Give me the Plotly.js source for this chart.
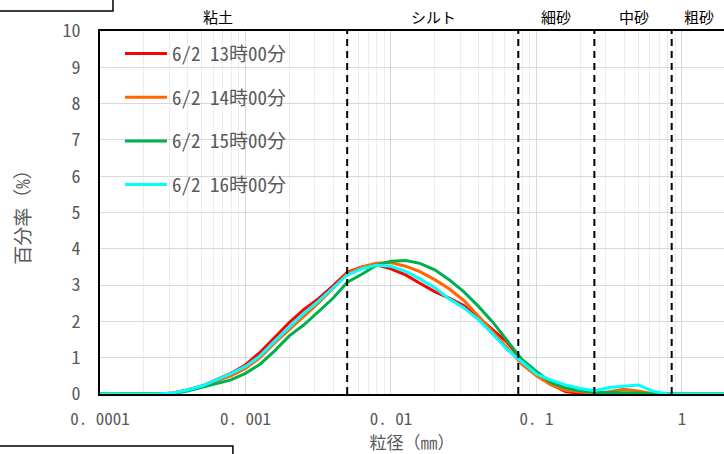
<!DOCTYPE html>
<html>
<head>
<meta charset="utf-8">
<script src="https://cdn.plot.ly/plotly-3.0.1.min.js"></script>
<style>html,body{margin:0;padding:0;background:#fff;}#chart{width:724px;height:454px;}</style>
</head>
<body>
<div id="chart"></div>
<script>
// particle diameter (mm)
var diameters = [0.0001,0.000126,0.000158,0.0002,0.000251,0.000316,0.000398,0.000501,0.000631,0.000794,
  0.001,0.00126,0.00158,0.002,0.00251,0.00316,0.00398,0.00501,0.00631,0.00794,
  0.01,0.0126,0.0158,0.02,0.0251,0.0316,0.0398,0.0501,0.0631,0.0794,
  0.1,0.126,0.158,0.2,0.251,0.316,0.398,0.501,0.631,0.794,
  1,1.26,1.58,2];
var seriesNames = ["6/2 13時00分","6/2 14時00分","6/2 15時00分","6/2 16時00分"];
var s13 = [0,0,0,0,0,0.03,0.11,0.22,0.39,0.57,
  0.8,1.15,1.55,1.97,2.32,2.62,2.97,3.35,3.5,3.56,
  3.45,3.28,3.05,2.82,2.64,2.44,2.12,1.78,1.42,0.92,
  0.55,0.27,0.07,0.01,0,0,0,0,0,0,
  0,0,0,0];
var s14 = [0,0,0,0,0,0.02,0.1,0.2,0.36,0.5,
  0.7,1.0,1.4,1.78,2.15,2.5,2.9,3.32,3.5,3.6,
  3.62,3.52,3.37,3.15,2.9,2.58,2.15,1.7,1.28,0.82,
  0.5,0.25,0.1,0.05,0.02,0.06,0.13,0.08,0.01,0,
  0,0,0,0];
var s15 = [0,0,0,0,0,0.01,0.08,0.18,0.3,0.39,
  0.57,0.82,1.18,1.6,1.9,2.27,2.63,3.08,3.3,3.55,
  3.66,3.68,3.6,3.42,3.15,2.82,2.42,1.98,1.48,0.95,
  0.62,0.32,0.17,0.09,0.05,0.04,0.05,0.03,0,0,
  0,0,0,0];
var s16 = [0,0,0,0,0,0.03,0.11,0.22,0.39,0.56,
  0.76,1.05,1.45,1.85,2.22,2.55,2.92,3.28,3.45,3.55,
  3.52,3.38,3.17,2.93,2.62,2.38,2.05,1.65,1.22,0.88,
  0.55,0.38,0.25,0.15,0.09,0.18,0.22,0.25,0.08,0,
  0,0,0,0];
var seriesColors = ["#ff0000","#ff6600","#00b050","#00ffff"];
// class boundaries (mm) and class labels
var boundaries = [0.005,0.075,0.25,0.85];
var classLabels = ["粘土","シルト","細砂","中砂","粗砂"];
var classLabelPos = [0.00065,0.0195,0.137,0.47,1.3];
var xTickVals = [0.0001,0.001,0.01,0.1,1];
var xTickText = ["0. 0001","0. 001","0. 01","0. 1","1"];

var FONT = '"Noto Sans Mono CJK JP","Noto Sans CJK JP",sans-serif';
var allSeries = [s13,s14,s15,s16];
var traces = allSeries.map(function(s,i){
  return {x:diameters,y:s,type:'scatter',mode:'lines',name:seriesNames[i],
    legendgroup:'g'+i,line:{color:seriesColors[i],width:3}};
});

var shapes = boundaries.map(function(b){
  return {type:'line',xref:'x',yref:'paper',x0:b,x1:b,y0:0,y1:1,
    line:{color:'#000',width:2,dash:'7px,5px'}};
});
// partial text boxes at the corners
shapes.push({type:'rect',xref:'paper',yref:'paper',x0:-0.2,x1:0.0208,y0:1.055,y1:1.2,line:{color:'#000',width:1.5}});
shapes.push({type:'rect',xref:'paper',yref:'paper',x0:-0.2,x1:0.213,y0:-0.3,y1:-0.143,line:{color:'#000',width:1.5}});

var annotations = classLabels.map(function(t,i){
  return {text:t,xref:'x',yref:'paper',x:Math.log10(classLabelPos[i]),y:1,yanchor:'bottom',
    yshift:2,showarrow:false,font:{family:FONT,size:15,color:'#000'}};
});

var layout = {
  width:724,height:454,
  margin:{l:100,r:0,t:31,b:60},
  paper_bgcolor:'#fff',plot_bgcolor:'#fff',
  showlegend:true,
  legend:{x:0.032,y:0.99,xanchor:'left',yanchor:'top',bgcolor:'rgba(0,0,0,0)',
    tracegroupgap:16,itemwidth:42,font:{family:FONT,size:19,color:'#595959'}},
  xaxis:{type:'log',range:[-4,0.289],tickvals:xTickVals,ticktext:xTickText,
    showgrid:true,gridcolor:'#d9d9d9',gridwidth:1,
    minor:{dtick:'D1',showgrid:true,gridcolor:'#ededed',gridwidth:1,ticks:''},
    showline:true,linecolor:'#000',linewidth:2,mirror:true,
    ticks:'outside',ticklen:9,tickcolor:'rgba(0,0,0,0)',
    tickfont:{family:FONT,size:17,color:'#595959'},zeroline:false,layer:'below traces',
    title:{text:'粒径（㎜）',standoff:6,font:{family:FONT,size:17,color:'#595959'}}},
  yaxis:{range:[0,10],dtick:1,showgrid:true,gridcolor:'#d9d9d9',gridwidth:1,
    showline:true,linecolor:'#000',linewidth:2,zeroline:false,
    ticks:'outside',ticklen:14,tickcolor:'rgba(0,0,0,0)',
    tickfont:{family:FONT,size:18,color:'#595959'},layer:'below traces',
    title:{text:'百分率（%）',standoff:27,font:{family:FONT,size:19,color:'#595959'}}},
  shapes:shapes,
  annotations:annotations
};
Plotly.newPlot('chart',traces,layout,{staticPlot:true});
</script>
</body>
</html>
